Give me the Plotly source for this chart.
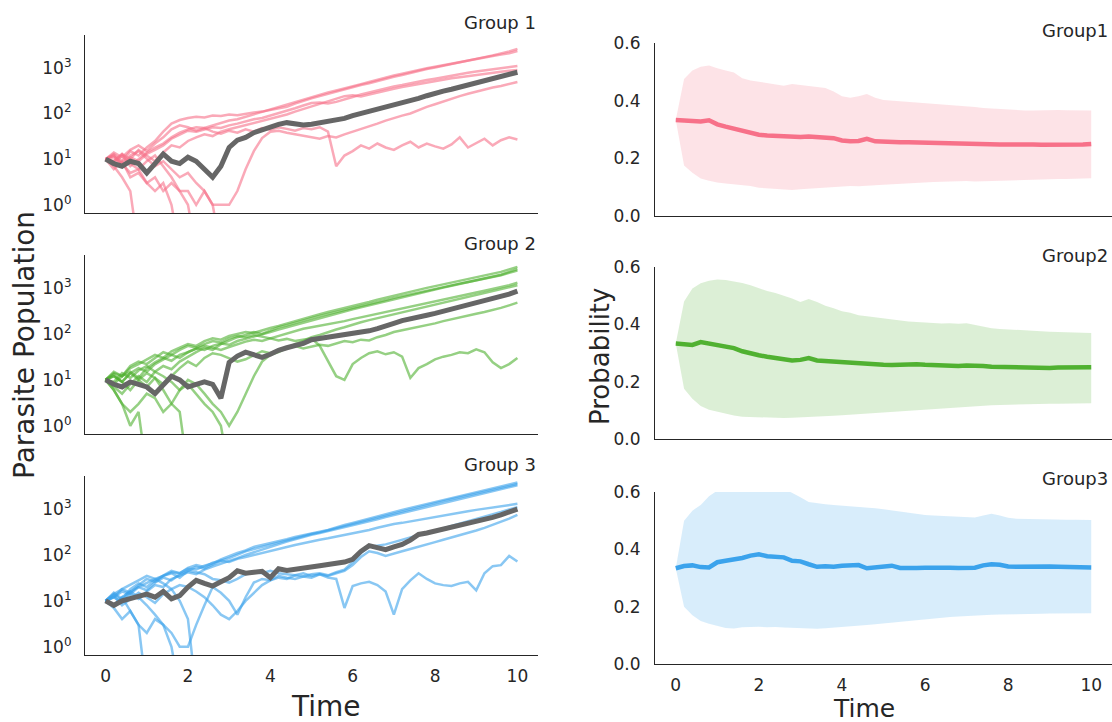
import numpy as np
import plotly.graph_objects as go

# sample times (every 0.2 time units)
time = np.round(np.arange(51) * 0.2, 1)

group_names = ["Group 1", "Group 2", "Group 3"]
prob_names = ["Group1", "Group2", "Group3"]
colors = ["#f77189", "#50b131", "#3ba3ec"]
band_colors = ["rgba(247,113,137,0.2)", "rgba(80,177,49,0.2)", "rgba(59,163,236,0.2)"]

# parasite population runs (0 = extinct, list stops there)
g1_runs = [
    [10, 13, 9, 15, 12, 18, 25, 40, 60, 72, 80, 85, 82, 90, 88, 95, 92, 100, 105, 110, 118, 128, 140, 165, 190, 215,
     240, 270, 300, 340, 380, 420, 460, 520, 580, 640, 700, 780, 860, 940, 1020, 1120, 1220, 1330, 1450, 1580, 1720,
     1880, 2050, 2300, 2600],
    [10, 8, 12, 7, 10, 14, 18, 22, 30, 38, 45, 50, 48, 55, 62, 70, 75, 85, 95, 110, 125, 140, 155, 175, 200, 230, 260,
     290, 320, 360, 400, 440, 490, 550, 610, 680, 740, 820, 900, 980, 1060, 1150, 1250, 1350, 1450, 1550, 1680, 1820,
     1950, 2100, 2350],
    [10, 12, 7, 11, 9, 13, 16, 20, 28, 35, 42, 40, 45, 50, 48, 55, 60, 68, 75, 80, 90, 100, 115, 130, 150, 170, 175,
     165, 180, 200, 230, 260, 290, 320, 350, 390, 420, 460, 500, 540, 580, 630, 680, 730, 780, 830, 880, 930, 980,
     1040, 1100],
    [10, 9, 13, 10, 16, 12, 9, 14, 20, 18, 25, 30, 35, 32, 40, 45, 50, 55, 62, 70, 78, 85, 95, 110, 125, 140, 160, 185,
     210, 240, 250, 235, 260, 290, 320, 350, 380, 410, 440, 480, 510, 550, 590, 620, 660, 700, 740, 780, 820, 860, 900],
    [10, 6, 9, 4, 5, 3, 4, 2, 3, 2, 2, 1, 2, 1, 1, 1, 2, 6, 15, 29, 40, 42, 38, 35, 32, 30, 28, 32, 30, 35, 40, 45, 52,
     60, 70, 80, 90, 100, 120, 140, 160, 185, 210, 240, 270, 300, 340, 370, 400, 440, 490],
    [10, 14, 11, 16, 20, 15, 22, 30, 45, 55, 50, 42, 48, 40, 36, 42, 38, 45, 40, 48, 44, 50, 46, 42, 48, 45, 50, 40, 7,
     12, 15, 20, 17, 22, 18, 16, 20, 24, 18, 22, 19, 17, 21, 30, 18, 22, 28, 20, 26, 30, 27],
    [10, 7, 4, 2, 0],
    [10, 12, 8, 5, 6, 3, 2, 3, 1, 0],
    [10, 9, 13, 8, 6, 9, 12, 7, 4, 2, 1, 0],
    [10, 11, 8, 12, 15, 10, 7, 9, 6, 4, 5, 3, 2, 1, 0],
]
g1_mean = [10, 8, 7, 9, 8, 5, 8, 13, 9, 8, 11, 9, 6, 4, 7, 18, 26, 30, 38, 44, 50, 58, 63, 58, 56, 58, 62, 66, 70, 78,
           90, 100, 110, 120, 135, 150, 170, 190, 215, 245, 280, 310, 340, 380, 430, 480, 530, 590, 650, 720, 800]

g2_runs = [
    [10, 14, 12, 18, 22, 28, 35, 30, 42, 50, 60, 55, 70, 80, 75, 90, 100, 110, 105, 120, 135, 150, 170, 190, 215, 240,
     270, 300, 330, 370, 410, 450, 500, 560, 620, 690, 760, 840, 920, 1010, 1100, 1200, 1320, 1450, 1580, 1720, 1880,
     2050, 2250, 2550, 2900],
    [10, 8, 12, 15, 11, 18, 24, 30, 26, 35, 40, 48, 45, 55, 62, 58, 70, 78, 90, 100, 110, 125, 140, 160, 180, 200, 225,
     250, 280, 310, 345, 380, 420, 470, 520, 580, 640, 700, 770, 850, 930, 1020, 1120, 1230, 1350, 1480, 1620, 1780,
     1950, 2250, 2600],
    [10, 7, 5, 8, 12, 9, 15, 20, 17, 25, 32, 40, 50, 45, 60, 72, 85, 95, 110, 100, 120, 140, 155, 175, 200, 220, 245,
     270, 300, 330, 370, 410, 455, 500, 550, 610, 670, 730, 800, 880, 960, 1050, 1150, 1250, 1360, 1480, 1600, 1750,
     1900, 2150, 2400],
    [10, 12, 9, 14, 18, 15, 22, 28, 35, 30, 40, 48, 55, 50, 45, 52, 60, 68, 75, 70, 80, 90, 100, 115, 130, 140, 150,
     160, 175, 190, 210, 230, 250, 275, 300, 330, 360, 400, 440, 480, 520, 570, 620, 670, 730, 800, 870, 950, 1050,
     1150, 1300],
    [10, 6, 3, 2, 3, 5, 4, 2, 3, 6, 10, 8, 5, 3, 2, 1, 2, 5, 12, 25, 35, 40, 50, 60, 70, 85, 95, 110, 125, 140, 160,
     180, 200, 220, 245, 270, 300, 330, 360, 400, 440, 480, 530, 580, 640, 700, 770, 850, 940, 1040, 1150],
    [10, 13, 9, 6, 10, 14, 11, 8, 12, 18, 25, 20, 30, 38, 35, 30, 25, 28, 35, 42, 38, 45, 50, 55, 48, 52, 58, 55, 62,
     70, 66, 75, 72, 85, 95, 110, 120, 130, 140, 155, 170, 190, 210, 230, 250, 275, 300, 330, 370, 420, 480],
    [10, 15, 12, 20, 25, 22, 30, 40, 35, 45, 55, 50, 60, 70, 65, 80, 90, 85, 95, 88, 80, 72, 78, 70, 75, 80, 55, 25,
     12, 10, 22, 30, 38, 42, 36, 40, 32, 11, 18, 22, 28, 32, 35, 40, 38, 46, 40, 24, 18, 22, 30],
    [10, 6, 3, 1, 2, 0],
    [10, 12, 9, 14, 10, 7, 11, 6, 3, 2, 0],
    [10, 9, 14, 11, 16, 20, 15, 12, 9, 6, 8, 5, 3, 2, 1, 0],
]
g2_mean = [10, 8, 7, 9, 8, 7, 5, 8, 12, 10, 7, 8, 9, 8, 4, 24, 33, 40, 35, 31, 36, 44, 50, 56, 62, 75, 80, 82, 86, 92,
           100, 108, 117, 130, 145, 170, 195, 210, 230, 255, 280, 310, 340, 380, 420, 470, 520, 580, 650, 740, 860]

g3_runs = [
    [10, 14, 18, 15, 22, 30, 26, 35, 42, 40, 50, 48, 58, 65, 80, 95, 110, 125, 150, 165, 180, 200, 220, 245, 265, 290,
     320, 350, 400, 450, 500, 560, 620, 700, 780, 870, 960, 1060, 1170, 1290, 1420, 1560, 1720, 1900, 2100, 2320,
     2550, 2800, 3100, 3450, 3800],
    [10, 8, 12, 16, 20, 17, 25, 32, 28, 38, 45, 55, 50, 62, 75, 85, 100, 120, 135, 150, 170, 190, 210, 235, 260, 285,
     310, 345, 380, 420, 470, 520, 580, 650, 720, 800, 890, 990, 1100, 1220, 1350, 1490, 1640, 1810, 2000, 2200, 2420,
     2650, 2900, 3200, 3500],
    [10, 12, 9, 14, 11, 16, 22, 20, 30, 36, 42, 38, 48, 56, 64, 72, 85, 100, 115, 130, 150, 170, 195, 220, 250, 275,
     300, 330, 360, 400, 440, 490, 540, 600, 670, 740, 820, 910, 1010, 1120, 1240, 1370, 1510, 1670, 1840, 2020, 2230,
     2460, 2720, 3000, 3300],
    [10, 15, 11, 18, 24, 20, 28, 35, 45, 40, 52, 60, 55, 68, 75, 70, 82, 90, 100, 110, 120, 135, 150, 165, 180, 200,
     215, 230, 250, 270, 290, 320, 350, 390, 430, 470, 500, 540, 580, 620, 670, 720, 780, 840, 900, 960, 1020, 1090,
     1160, 1230, 1300],
    [10, 7, 4, 6, 3, 2, 4, 3, 2, 1, 1, 3, 8, 20, 15, 10, 5, 12, 25, 30, 28, 35, 32, 30, 34, 38, 40, 36, 42, 48, 70,
     110, 150, 160, 170, 190, 210, 240, 270, 300, 340, 380, 430, 480, 540, 600, 680, 760, 860, 980, 1100],
    [10, 13, 8, 11, 15, 12, 9, 14, 18, 22, 20, 16, 12, 8, 5, 4, 6, 10, 15, 22, 28, 32, 30, 36, 34, 32, 38, 35, 40, 45,
     60, 90, 120, 110, 95, 105, 120, 135, 150, 170, 190, 215, 240, 270, 300, 340, 390, 450, 520, 620, 750],
    [10, 12, 16, 14, 20, 25, 30, 35, 40, 32, 45, 42, 38, 30, 28, 25, 30, 38, 42, 40, 45, 40, 38, 36, 40, 35, 38, 32,
     30, 7, 21, 24, 26, 22, 16, 5, 18, 28, 40, 30, 24, 22, 21, 24, 26, 17, 40, 57, 60, 95, 72],
    [10, 8, 12, 6, 3, 0],
    [10, 14, 10, 16, 12, 8, 5, 3, 1, 0],
    [10, 12, 18, 22, 28, 35, 30, 24, 18, 10, 4, 0],
]
g3_mean = [10, 8, 10, 11, 12, 14, 12, 16, 11, 13, 20, 28, 24, 21, 26, 32, 45, 40, 42, 44, 32, 50, 46, 48, 52, 55, 58,
           62, 65, 70, 80, 120, 160, 145, 130, 150, 170, 210, 280, 300, 330, 360, 400, 440, 490, 530, 600, 660, 750,
           860, 1000]

# probability: mean and band edges
p1_mean = [0.333, 0.332, 0.330, 0.328, 0.332, 0.318, 0.310, 0.302, 0.298, 0.290, 0.282, 0.279, 0.278, 0.277, 0.273,
           0.274, 0.276, 0.274, 0.275, 0.270, 0.262, 0.259, 0.260, 0.268, 0.259, 0.257, 0.257, 0.256, 0.256, 0.255,
           0.256, 0.254, 0.253, 0.254, 0.252, 0.252, 0.251, 0.248, 0.247, 0.248, 0.248, 0.249, 0.249, 0.248, 0.247,
           0.247, 0.248, 0.247, 0.246, 0.248, 0.250]
p1_upper = [0.333, 0.475, 0.505, 0.518, 0.522, 0.512, 0.505, 0.498, 0.478, 0.470, 0.466, 0.462, 0.456, 0.452, 0.458,
            0.455, 0.452, 0.448, 0.444, 0.432, 0.415, 0.410, 0.415, 0.423, 0.410, 0.402, 0.400, 0.398, 0.396, 0.394,
            0.392, 0.388, 0.386, 0.384, 0.382, 0.380, 0.378, 0.375, 0.373, 0.371, 0.370, 0.368, 0.366, 0.366, 0.367,
            0.368, 0.368, 0.367, 0.366, 0.366, 0.366]
p1_lower = [0.333, 0.175, 0.150, 0.130, 0.122, 0.116, 0.113, 0.110, 0.108, 0.104, 0.098, 0.096, 0.094, 0.091, 0.090,
            0.093, 0.095, 0.096, 0.098, 0.100, 0.102, 0.104, 0.103, 0.106, 0.107, 0.108, 0.110, 0.111, 0.113, 0.115,
            0.116, 0.118, 0.119, 0.120, 0.120, 0.121, 0.120, 0.121, 0.122, 0.122, 0.123, 0.124, 0.125, 0.125, 0.126,
            0.127, 0.128, 0.128, 0.129, 0.130, 0.131]

p2_mean = [0.333, 0.332, 0.328, 0.338, 0.333, 0.326, 0.322, 0.317, 0.306, 0.298, 0.292, 0.287, 0.282, 0.278, 0.274,
           0.276, 0.282, 0.274, 0.272, 0.270, 0.266, 0.264, 0.262, 0.260, 0.258, 0.259, 0.258, 0.260, 0.260, 0.261,
           0.259, 0.258, 0.255, 0.253, 0.255, 0.256, 0.256, 0.255, 0.252, 0.251, 0.251, 0.250, 0.249, 0.247, 0.247,
           0.248, 0.249, 0.249, 0.249, 0.250, 0.250]
p2_upper = [0.333, 0.480, 0.525, 0.543, 0.552, 0.556, 0.555, 0.550, 0.544, 0.536, 0.525, 0.516, 0.509, 0.500, 0.490,
            0.478, 0.488, 0.478, 0.465, 0.456, 0.446, 0.440, 0.432, 0.428, 0.424, 0.420, 0.418, 0.414, 0.410, 0.408,
            0.406, 0.405, 0.403, 0.404, 0.402, 0.404, 0.398, 0.390, 0.386, 0.384, 0.382, 0.380, 0.379, 0.377, 0.375,
            0.374, 0.373, 0.372, 0.372, 0.371, 0.370]
p2_lower = [0.333, 0.175, 0.140, 0.115, 0.102, 0.095, 0.088, 0.082, 0.078, 0.077, 0.075, 0.074, 0.073, 0.073, 0.074,
            0.075, 0.077, 0.077, 0.079, 0.081, 0.083, 0.085, 0.088, 0.090, 0.092, 0.094, 0.095, 0.097, 0.098, 0.100,
            0.103, 0.106, 0.108, 0.110, 0.112, 0.114, 0.116, 0.117, 0.118, 0.119, 0.120, 0.121, 0.121, 0.122, 0.122,
            0.123, 0.123, 0.124, 0.124, 0.125, 0.125]

p3_mean = [0.334, 0.342, 0.344, 0.338, 0.337, 0.355, 0.360, 0.364, 0.370, 0.378, 0.383, 0.376, 0.374, 0.372, 0.360,
           0.358, 0.348, 0.339, 0.341, 0.339, 0.343, 0.344, 0.345, 0.334, 0.338, 0.340, 0.343, 0.335, 0.334, 0.335,
           0.336, 0.337, 0.337, 0.336, 0.335, 0.334, 0.336, 0.344, 0.348, 0.346, 0.340, 0.339, 0.340, 0.340, 0.339,
           0.340, 0.339, 0.338, 0.338, 0.337, 0.337]
p3_upper = [0.334, 0.500, 0.535, 0.555, 0.585, 0.605, 0.615, 0.622, 0.628, 0.632, 0.635, 0.630, 0.625, 0.612, 0.598,
            0.582, 0.565, 0.560, 0.557, 0.555, 0.553, 0.550, 0.548, 0.546, 0.543, 0.540, 0.536, 0.532, 0.528, 0.523,
            0.520, 0.518, 0.517, 0.515, 0.514, 0.512, 0.511, 0.518, 0.524, 0.518, 0.510, 0.507, 0.506, 0.505, 0.505,
            0.504, 0.504, 0.503, 0.503, 0.502, 0.502]
p3_lower = [0.334, 0.200, 0.170, 0.150, 0.140, 0.133, 0.126, 0.124, 0.128, 0.129, 0.130, 0.128, 0.129, 0.127, 0.126,
            0.124, 0.125, 0.123, 0.125, 0.127, 0.128, 0.130, 0.133, 0.136, 0.139, 0.142, 0.145, 0.147, 0.150, 0.153,
            0.156, 0.159, 0.162, 0.164, 0.166, 0.168, 0.170, 0.171, 0.172, 0.173, 0.173, 0.174, 0.174, 0.175, 0.175,
            0.176, 0.176, 0.176, 0.177, 0.177, 0.177]

pop_groups = [(g1_runs, g1_mean), (g2_runs, g2_mean), (g3_runs, g3_mean)]
prob_groups = [(p1_mean, p1_lower, p1_upper), (p2_mean, p2_lower, p2_upper), (p3_mean, p3_lower, p3_upper)]

fig = go.Figure()

for k, (runs, mean) in enumerate(pop_groups):
    ax = "" if k == 0 else str(k + 1)
    for run in runs:
        # extinct runs: drop below the visible log range
        y = [v if v > 0 else 0.1 for v in run]
        fig.add_scatter(x=time[:len(run)], y=y, mode="lines", line=dict(color=colors[k], width=2.5),
                        opacity=0.6, xaxis="x" + ax, yaxis="y" + ax, showlegend=False, hoverinfo="skip")
    fig.add_scatter(x=time, y=mean, mode="lines", line=dict(color="#666666", width=5),
                    xaxis="x" + ax, yaxis="y" + ax, showlegend=False)

for k, (mean, lower, upper) in enumerate(prob_groups):
    ax = str(k + 4)
    fig.add_scatter(x=time, y=lower, mode="lines", line=dict(width=0), xaxis="x" + ax, yaxis="y" + ax,
                    showlegend=False, hoverinfo="skip")
    fig.add_scatter(x=time, y=upper, mode="lines", line=dict(width=0), fill="tonexty", fillcolor=band_colors[k],
                    xaxis="x" + ax, yaxis="y" + ax, showlegend=False, hoverinfo="skip")
    fig.add_scatter(x=time, y=mean, mode="lines", line=dict(color=colors[k], width=4.5),
                    xaxis="x" + ax, yaxis="y" + ax, showlegend=False)

W, H = 1112, 722
def px(x):
    return x / W
def py(y):
    return 1 - y / H

base = dict(showline=True, linecolor="#262626", linewidth=1.25, showgrid=False, zeroline=False, automargin=False,
            ticks="outside", tickcolor="rgba(0,0,0,0)", tickfont=dict(size=17, color="#262626"))

left_rows = [(213, 35), (434, 255), (655, 476)]
right_rows = [(216, 43), (439, 267), (664, 492)]
layout = {}
for k in range(3):
    n = "" if k == 0 else str(k + 1)
    layout["xaxis" + n] = dict(base, domain=[px(85), px(538)], range=[-0.5, 10.5], anchor="y" + n,
                               tickvals=[0, 2, 4, 6, 8, 10], showticklabels=(k == 2), ticklen=5)
    layout["yaxis" + n] = dict(base, domain=[py(left_rows[k][0]), py(left_rows[k][1])], type="log",
                               range=[-0.18, 3.72], anchor="x" + n, ticklen=9,
                               tickvals=[1, 10, 100, 1000],
                               ticktext=["10<sup>0</sup>", "10<sup>1</sup>", "10<sup>2</sup>", "10<sup>3</sup>"])
    m = str(k + 4)
    layout["xaxis" + m] = dict(base, domain=[px(655), 1.0], range=[-0.5, 10.5], anchor="y" + m,
                               tickvals=[0, 2, 4, 6, 8, 10], showticklabels=(k == 2), ticklen=5)
    layout["yaxis" + m] = dict(base, domain=[py(right_rows[k][0]), py(right_rows[k][1])], range=[0, 0.6],
                               anchor="x" + m, tickvals=[0, 0.2, 0.4, 0.6], tickformat=".1f", ticklen=10)

def note(text, x, y, size, anchor="center", angle=0):
    return dict(text=text, x=px(x), y=py(y), xref="paper", yref="paper", xanchor=anchor, yanchor="middle",
                showarrow=False, textangle=angle, font=dict(size=size, color="#262626"))

annotations = []
title_y = [22, 243, 464]
ptitle_y = [30, 255, 478]
for k in range(3):
    annotations.append(note(group_names[k], 538, title_y[k], 18, "right"))
    annotations.append(note(prob_names[k], 1110, ptitle_y[k], 18, "right"))
annotations += [
    note("Time", 326, 706, 28),
    note("Time", 864, 708, 25),
    note("Parasite Population", 24, 345, 28, angle=-90),
    note("Probability", 600, 357, 26, angle=-90),
]

fig.update_layout(width=W, height=H, margin=dict(l=0, r=0, t=0, b=0, autoexpand=False), plot_bgcolor="white",
                  paper_bgcolor="white", font=dict(family="DejaVu Sans", color="#262626"),
                  annotations=annotations, **layout)
# drop the default page margin so the figure fills the window exactly
fig.write_html("out.html", config={"displayModeBar": False},
               post_script="document.body.style.margin = '0px';")
